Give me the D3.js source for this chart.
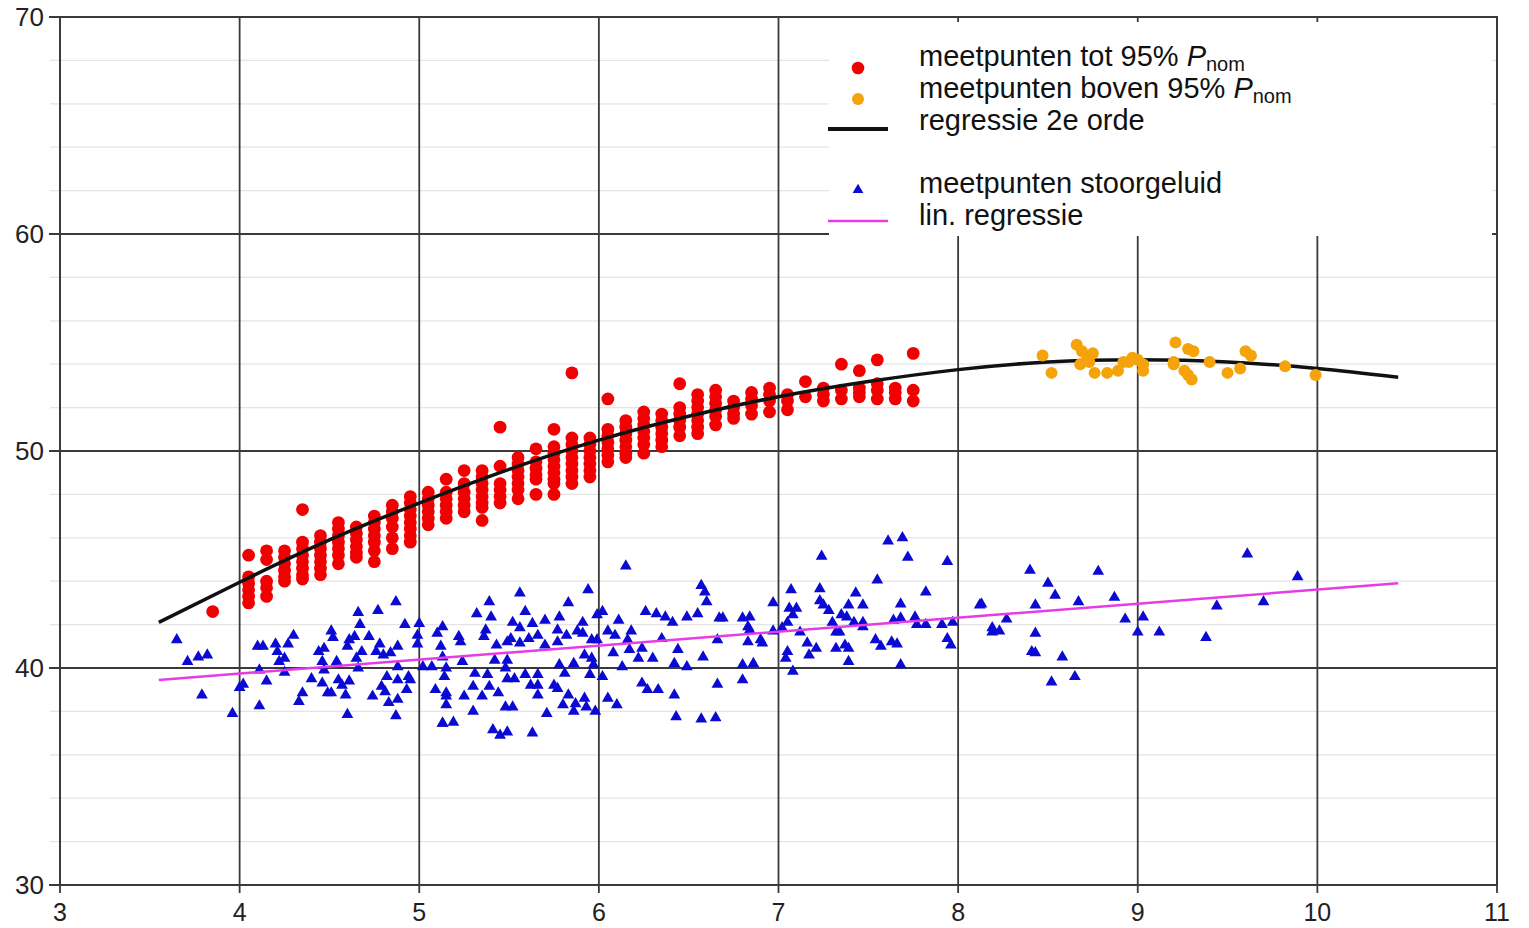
<!DOCTYPE html>
<html>
<head>
<meta charset="utf-8">
<script src="https://cdn.jsdelivr.net/npm/d3@7"></script>
<style>
  body { margin: 0; background: #fff; }
  text { font-family: "Liberation Sans", Arial, sans-serif; }
</style>
</head>
<body>
<div id="chart"></div>
<script>
// x positions of the red measurement columns, and the dots in each column
const redX = [3.85, 4.05, 4.15, 4.25, 4.35, 4.45, 4.55, 4.65, 4.75, 4.85, 4.95,
  5.05, 5.15, 5.25, 5.35, 5.45, 5.55, 5.65, 5.75, 5.85, 5.95,
  6.05, 6.15, 6.25, 6.35, 6.45, 6.55, 6.65, 6.75, 6.85, 6.95,
  7.05, 7.15, 7.25, 7.35, 7.45, 7.55, 7.65, 7.75];
const redY = [
  [42.6],
  [45.2, 44.2, 43.9, 43.6, 43.3, 43.0],
  [45.4, 45.0, 44.0, 43.7, 43.3],
  [45.4, 45.1, 44.8, 44.5, 44.2, 44.0],
  [47.3, 45.8, 45.5, 45.2, 44.9, 44.6, 44.3, 44.1],
  [46.1, 45.8, 45.5, 45.2, 44.9, 44.6, 44.3],
  [46.7, 46.4, 46.1, 45.8, 45.5, 45.2, 44.8],
  [46.5, 46.2, 45.9, 45.6, 45.3, 45.1],
  [47.0, 46.7, 46.4, 46.1, 45.8, 45.4, 44.9],
  [47.5, 47.2, 46.9, 46.5, 46.0, 45.5],
  [47.9, 47.6, 47.3, 47.0, 46.7, 46.4, 46.1, 45.8],
  [48.1, 47.8, 47.5, 47.2, 46.9, 46.6],
  [48.7, 48.1, 47.8, 47.5, 47.2, 46.9],
  [49.1, 48.5, 48.1, 47.8, 47.5, 47.2],
  [49.1, 48.8, 48.5, 48.2, 47.9, 47.6, 47.4, 46.8],
  [51.1, 49.3, 48.5, 48.2, 47.9, 47.6],
  [49.7, 49.4, 49.1, 48.8, 48.5, 48.2, 47.8],
  [50.1, 49.5, 49.2, 48.9, 48.7, 48.0],
  [51.0, 50.2, 49.9, 49.6, 49.3, 49.0, 48.7, 48.5, 48.0],
  [53.6, 50.6, 50.3, 50.0, 49.7, 49.4, 49.1, 48.8, 48.5],
  [50.6, 50.3, 50.0, 49.7, 49.4, 49.1, 48.8],
  [52.4, 51.0, 50.7, 50.4, 50.1, 49.8, 49.5],
  [51.4, 51.1, 50.8, 50.5, 50.2, 49.9, 49.7],
  [51.8, 51.5, 51.2, 50.9, 50.6, 50.3, 49.9],
  [51.7, 51.4, 51.1, 50.8, 50.5, 50.2],
  [53.1, 52.0, 51.7, 51.4, 51.1, 50.7],
  [52.6, 52.3, 52.0, 51.7, 51.4, 51.1, 50.8],
  [52.8, 52.5, 52.2, 51.9, 51.6, 51.2],
  [52.3, 52.0, 51.7, 51.5],
  [52.7, 52.4, 52.1, 51.7],
  [52.9, 52.6, 52.3, 51.8],
  [52.6, 52.3, 51.9],
  [53.2, 52.5],
  [52.9, 52.6, 52.3],
  [54.0, 52.8, 52.4],
  [53.7, 52.9, 52.7, 52.5],
  [54.2, 53.1, 52.8, 52.4],
  [52.9, 52.7, 52.4],
  [54.5, 52.8, 52.3]
];

// orange points (above 95% Pnom)
const orangeX = [8.47, 8.52, 8.66, 8.69, 8.72, 8.75, 8.68, 8.73, 8.76, 8.83, 8.89,
  8.92, 8.95, 8.97, 9.00, 9.03, 9.03, 9.20, 9.20, 9.21, 9.26, 9.28, 9.28, 9.30,
  9.31, 9.40, 9.50, 9.57, 9.60, 9.63, 9.82, 9.99];
const orangeY = [54.4, 53.6, 54.9, 54.6, 54.3, 54.5, 54.0, 54.1, 53.6, 53.6, 53.7,
  54.1, 54.1, 54.3, 54.2, 54.0, 53.7, 54.1, 54.0, 55.0, 53.7, 54.7, 53.5, 53.3,
  54.6, 54.1, 53.6, 53.8, 54.6, 54.4, 53.9, 53.5];

// blue triangles (background noise)
const blueX = [3.65, 3.71, 3.77, 3.82, 3.79, 3.96, 4.00, 4.02, 4.11, 4.10, 4.13,
  4.20, 4.21, 4.22, 4.25, 4.15, 4.11, 4.25, 4.27, 4.30, 4.35, 4.33, 4.40, 4.44,
  4.47, 4.46, 4.47, 4.46, 4.49, 4.51, 4.52, 4.54, 4.51, 4.55, 4.57, 4.60, 4.59,
  4.61, 4.60, 4.61, 4.64, 4.65, 4.66, 4.66, 4.68, 4.67, 4.72, 4.74, 4.77, 4.78,
  4.76, 4.80, 4.79, 4.81, 4.83, 4.82, 4.84, 4.87, 4.87, 4.88, 4.88, 4.88, 4.88,
  4.92, 4.93, 4.94, 4.95, 4.99, 5.00, 4.99, 5.02, 5.07, 5.10, 5.12, 5.13, 5.09,
  5.13, 5.15, 5.14,
  6.15, 5.56, 5.94, 5.39, 5.83, 5.59, 5.32, 5.40, 5.78, 5.99, 6.02, 5.52, 5.63,
  5.70, 5.91, 5.56, 5.37, 5.77, 5.88, 5.22, 5.23, 5.36, 5.51, 5.61, 5.66, 5.82,
  5.91, 6.05, 6.11, 6.18, 6.26, 6.32, 6.37, 6.41, 6.49, 6.55, 6.57, 6.59, 6.60,
  6.67, 5.43, 5.49, 5.56, 5.70, 5.77, 5.96, 5.99, 6.09, 6.16, 6.35, 6.66, 6.17,
  6.24, 6.08, 6.44, 6.22, 6.30, 6.58, 5.92, 5.96, 5.13, 5.24, 5.42, 5.49, 5.78,
  5.86, 5.97, 6.13, 6.42, 6.49, 5.15, 5.31, 5.38, 5.48, 5.49, 5.59, 5.66, 5.81,
  5.95, 6.02, 5.30, 5.39, 5.53, 5.62, 5.66, 5.75, 5.77, 6.24, 6.27, 6.33, 6.66,
  6.42, 5.15, 5.25, 5.35, 5.44, 5.66, 5.83, 6.05, 6.10, 5.15, 5.48, 5.52, 5.80,
  5.87, 5.92, 5.93, 5.98, 5.30, 5.71, 5.86, 6.43, 6.57, 6.65, 5.13, 5.19, 5.41,
  5.45, 5.49, 5.63,
  6.69, 6.80, 6.84, 6.83, 6.84, 6.97, 6.97, 7.02, 6.83, 6.90, 6.91, 6.80, 6.86,
  6.80, 7.07, 7.06, 7.10, 7.08, 7.05, 7.12, 7.05, 7.04, 7.08, 7.17, 7.16, 7.21,
  7.24, 7.23, 7.23, 7.25, 7.28, 7.30, 7.32, 7.34, 7.32, 7.37, 7.39, 7.39, 7.35,
  7.38, 7.39, 7.43, 7.47, 7.42, 7.47, 7.47, 7.54, 7.57, 7.55, 7.61, 7.69, 7.72,
  7.68, 7.64, 7.68, 7.63, 7.66, 7.68, 7.76, 7.77, 7.82, 7.82, 7.94, 7.91, 7.97,
  7.94, 7.96, 8.12,
  8.13, 8.40, 8.50, 8.54, 8.43, 8.27, 8.19, 8.19, 8.23, 8.43, 8.41, 8.43, 8.58,
  8.52, 8.65, 8.67, 8.78, 8.87, 8.93, 9.03, 9.00, 9.12, 9.38, 9.44, 9.61, 9.70,
  9.89];
const blueY = [41.3, 40.3, 40.5, 40.6, 38.75, 37.9, 39.1, 39.25, 39.9, 41.0, 41.0,
  41.1, 40.75, 40.3, 40.45, 39.4, 38.25, 39.8, 41.1, 41.5, 38.85, 38.45, 39.5, 40.75,
  40.9, 40.3, 39.9, 39.3, 38.85, 41.7, 41.4, 40.3, 38.85, 39.45, 39.2, 37.85, 38.75,
  39.4, 41.0, 41.3, 41.45, 40.45, 40.0, 42.55, 40.75, 42.0, 41.45, 38.7, 42.65, 41.1,
  40.75, 40.6, 39.15, 38.9, 38.4, 39.6, 40.7, 43.05, 37.8, 38.55, 39.45, 41.0, 40.05,
  42.0, 39.0, 39.6, 39.45, 41.1, 42.05, 41.5, 40.05, 40.05, 41.6, 41.0, 41.9, 39.0,
  37.45, 38.7, 39.6,
  44.7, 43.45, 43.6, 43.05, 43.0, 42.6, 42.5, 42.35, 42.35, 42.45, 42.6, 42.1, 42.05,
  42.2, 42.1, 41.85, 41.75, 41.75, 41.7, 41.45, 41.2, 41.45, 41.35, 41.35, 41.5, 41.5,
  41.6, 41.7, 42.2, 41.7, 42.6, 42.5, 42.35, 42.1, 42.35, 42.5, 43.8, 43.5, 43.05,
  42.3, 41.05, 41.2, 41.15, 41.05, 41.2, 41.3, 41.3, 41.5, 41.3, 41.35, 41.3, 40.85,
  40.9, 40.7, 40.85, 40.45, 40.45, 40.5, 40.6, 40.45, 40.5, 40.3, 40.35, 40.35, 40.15,
  40.2, 40.15, 40.05, 40.2, 40.05, 40.0, 39.75, 39.7, 40.0, 39.5, 39.7, 39.7, 39.75,
  39.7, 39.6, 39.15, 39.15, 39.5, 39.2, 39.2, 39.2, 39.05, 39.3, 39.0, 39.0, 39.25,
  38.75, 38.85, 38.7, 38.7, 38.85, 38.75, 38.75, 38.6, 38.3, 38.3, 38.2, 38.2, 38.3,
  38.35, 38.6, 38.2, 38.0, 38.0, 37.9, 38.0, 37.75, 37.65, 37.7, 37.45, 37.5, 37.15,
  36.9, 37.05, 37.0,
  42.3, 42.3, 42.35, 41.9, 41.75, 43.0, 41.7, 41.85, 41.2, 41.3, 41.15, 40.15, 40.2,
  39.45, 43.6, 42.75, 42.75, 42.45, 42.1, 41.65, 40.75, 40.45, 39.85, 40.6, 41.15, 40.9,
  45.15, 43.65, 43.1, 42.9, 42.65, 42.1, 41.65, 41.65, 40.9, 41.05, 40.9, 40.3, 42.45,
  42.35, 42.9, 43.45, 42.9, 42.1, 42.1, 41.9, 41.3, 41.0, 44.05, 45.85, 46.0, 45.1,
  42.95, 42.2, 42.3, 41.2, 41.1, 40.15, 42.35, 42.0, 42.0, 43.5, 44.9, 42.0, 42.1,
  41.35, 41.05, 42.9,
  42.95, 44.5, 43.9, 43.35, 42.9, 42.25, 41.85, 41.65, 41.7, 41.6, 40.75, 40.7, 40.5,
  39.35, 39.6, 43.05, 44.45, 43.25, 42.25, 42.35, 41.65, 41.65, 41.4, 42.85, 45.25, 43.05,
  44.2];

// 2nd order regression curve
const curveX = [3.55, 4.0, 4.5, 5.0, 5.5, 6.0, 6.5, 7.0, 7.5, 8.0, 8.5, 9.0, 9.5, 10.0, 10.45];
const curveY = [42.1, 43.95, 45.9, 47.6, 49.15, 50.5, 51.6, 52.5, 53.2, 53.75, 54.1, 54.2, 54.1, 53.8, 53.4];

// linear regression for the noise
const linX = [3.55, 10.45];
const linY = [39.45, 43.9];

const xTicks = [3, 4, 5, 6, 7, 8, 9, 10, 11];
const yTicks = [30, 40, 50, 60, 70];
const yMinor = [32, 34, 36, 38, 42, 44, 46, 48, 52, 54, 56, 58, 62, 64, 66, 68];

// set the dimensions
const W = 1529, H = 928;
const plotLeft = 60, plotRight = 1497, plotTop = 17, plotBottom = 885;

const svg = d3
  .select("#chart")
  .append("svg")
  .attr("width", W)
  .attr("height", H);

const x = d3.scaleLinear().domain([3, 11]).range([plotLeft, plotRight]);
const y = d3.scaleLinear().domain([30, 70]).range([plotBottom, plotTop]);

// minor grid lines + ticks
svg
  .append("g")
  .selectAll("line")
  .data(yMinor)
  .join("line")
  .attr("x1", plotLeft - 10)
  .attr("x2", plotRight)
  .attr("y1", (d) => y(d))
  .attr("y2", (d) => y(d))
  .attr("stroke", "#e4e4e4")
  .attr("stroke-width", 1.2);

// major grid
const gridColor = "#3a3a3a";
svg
  .append("g")
  .selectAll("line")
  .data(yTicks)
  .join("line")
  .attr("x1", plotLeft - 11)
  .attr("x2", plotRight)
  .attr("y1", (d) => y(d))
  .attr("y2", (d) => y(d))
  .attr("stroke", gridColor)
  .attr("stroke-width", 1.8);

svg
  .append("g")
  .selectAll("line")
  .data(xTicks)
  .join("line")
  .attr("x1", (d) => x(d))
  .attr("x2", (d) => x(d))
  .attr("y1", plotTop)
  .attr("y2", plotBottom + 8)
  .attr("stroke", gridColor)
  .attr("stroke-width", 1.8);

// tick labels
svg
  .append("g")
  .selectAll("text")
  .data(yTicks)
  .join("text")
  .attr("x", 44)
  .attr("y", (d) => y(d))
  .attr("dy", "0.36em")
  .attr("text-anchor", "end")
  .style("font-size", "26px")
  .style("fill", "#222")
  .text((d) => d);

svg
  .append("g")
  .selectAll("text")
  .data(xTicks)
  .join("text")
  .attr("x", (d) => x(d))
  .attr("y", 921)
  .attr("text-anchor", "middle")
  .style("font-size", "25px")
  .style("fill", "#222")
  .text((d) => d);

// blue noise points
svg
  .append("g")
  .selectAll("path")
  .data(blueX.map((d, i) => [d, blueY[i]]))
  .join("path")
  .attr("d", d3.symbol(d3.symbolTriangle, 60))
  .attr("transform", (d) => `translate(${x(d[0])},${y(d[1])})`)
  .attr("fill", "#0a0ad2");

// lin. regression
const line = d3.line().x((d) => x(d[0])).y((d) => y(d[1]));
svg
  .append("path")
  .datum(linX.map((d, i) => [d, linY[i]]))
  .attr("d", line)
  .attr("fill", "none")
  .attr("stroke", "#e63ce6")
  .attr("stroke-width", 2.5);

// red points, column by column
const redPts = redX.flatMap((cx, i) => redY[i].map((v) => [cx, v]));
svg
  .append("g")
  .selectAll("circle")
  .data(redPts)
  .join("circle")
  .attr("cx", (d) => x(d[0]))
  .attr("cy", (d) => y(d[1]))
  .attr("r", 6.4)
  .attr("fill", "#f00000");

// 2nd order regression
svg
  .append("path")
  .datum(curveX.map((d, i) => [d, curveY[i]]))
  .attr("d", line.curve(d3.curveNatural))
  .attr("fill", "none")
  .attr("stroke", "#111")
  .attr("stroke-width", 3.5);

// orange points
svg
  .append("g")
  .selectAll("circle")
  .data(orangeX.map((d, i) => [d, orangeY[i]]))
  .join("circle")
  .attr("cx", (d) => x(d[0]))
  .attr("cy", (d) => y(d[1]))
  .attr("r", 6)
  .attr("fill", "#f5a30a");

// legend
const legend = svg.append("g");
legend
  .append("rect")
  .attr("x", 829)
  .attr("y", 22)
  .attr("width", 663)
  .attr("height", 214)
  .attr("fill", "#fff");

legend.append("circle").attr("cx", 858).attr("cy", 68).attr("r", 6.3).attr("fill", "#f00000");
legend.append("circle").attr("cx", 858).attr("cy", 99).attr("r", 6).attr("fill", "#f5a30a");
legend.append("line").attr("x1", 828).attr("x2", 888).attr("y1", 129).attr("y2", 129)
  .attr("stroke", "#111").attr("stroke-width", 4);
legend.append("path").attr("d", d3.symbol(d3.symbolTriangle, 50))
  .attr("transform", "translate(858,190)").attr("fill", "#0a0ad2");
legend.append("line").attr("x1", 828).attr("x2", 888).attr("y1", 221).attr("y2", 221)
  .attr("stroke", "#e63ce6").attr("stroke-width", 2.5);

const labels = [
  { y: 66, text: "meetpunten tot 95% ", sub: true },
  { y: 98, text: "meetpunten boven 95% ", sub: true },
  { y: 130, text: "regressie 2e orde", sub: false },
  { y: 193, text: "meetpunten stoorgeluid", sub: false },
  { y: 225, text: "lin. regressie", sub: false },
];
labels.forEach((l) => {
  const t = legend
    .append("text")
    .attr("x", 919)
    .attr("y", l.y)
    .style("font-size", "29px")
    .style("fill", "#111");
  t.append("tspan").text(l.text);
  if (l.sub) {
    t.append("tspan").style("font-style", "italic").text("P");
    t.append("tspan").attr("dy", 5).style("font-size", "20px").text("nom");
  }
});

// frame
svg
  .append("rect")
  .attr("x", plotLeft)
  .attr("y", plotTop)
  .attr("width", plotRight - plotLeft)
  .attr("height", plotBottom - plotTop)
  .attr("fill", "none")
  .attr("stroke", gridColor)
  .attr("stroke-width", 2);
</script>
</body>
</html>
